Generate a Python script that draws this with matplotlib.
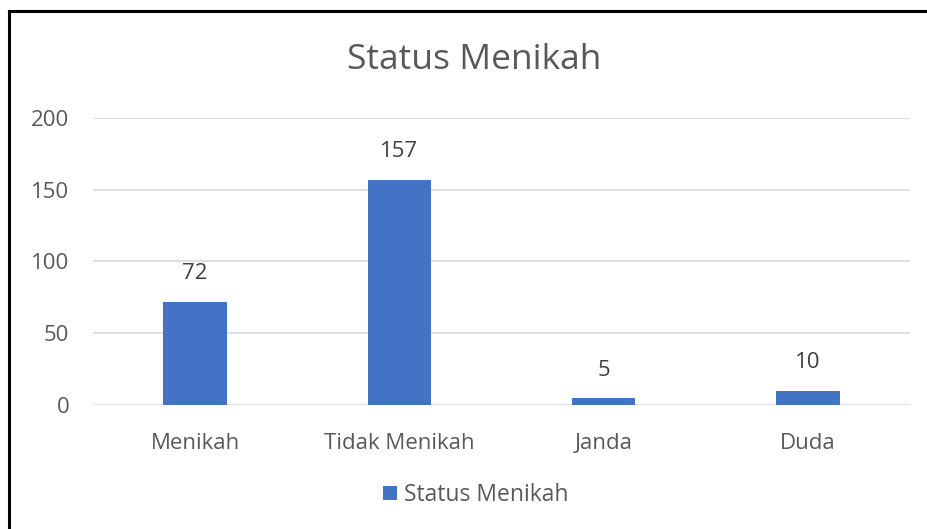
import matplotlib.pyplot as plt
from matplotlib.lines import Line2D
import numpy as np

categories = ['Menikah', 'Tidak Menikah', 'Janda', 'Duda']
counts = [72, 157, 5, 10]
yticks = [0, 50, 100, 150, 200]

plt.rcParams['font.family'] = ['Open Sans', 'DejaVu Sans']

fig = plt.figure(figsize=(9.27, 5.29), dpi=100)
ax = fig.add_axes([0.1003, 0.2344, 0.8814, 0.5426])

x = np.arange(len(categories))
bars = ax.bar(x, counts, width=0.31, color='#4472c4', zorder=3, label='Status Menikah')

for xi, v in zip(x, counts):
    ax.annotate(str(v), (xi, v), xytext=(0, 20), textcoords='offset points',
                ha='center', va='center', fontsize=16, color='#404040')

ax.set_xlim(-0.5, 3.5)
ax.set_ylim(0, 200)
ax.set_yticks(yticks)
ax.set_xticks(x)
ax.set_xticklabels(categories)
ax.yaxis.grid(True, color='#d9d9d9', linewidth=1.2, zorder=0)
for s in ax.spines.values():
    s.set_visible(False)
ax.tick_params(length=0, labelsize=16, labelcolor='#595959')
ax.tick_params(axis='x', pad=20)
ax.tick_params(axis='y', pad=17)

fig.text(0.512, 0.886, 'Status Menikah', ha='center', va='center', fontsize=25.5, color='#595959')

leg = fig.legend(handles=[bars], loc='center', bbox_to_anchor=(0.513, 0.064), frameon=False,
                 fontsize=16.5, handlelength=0.6, handleheight=0.6, handletextpad=0.3)
for t in leg.get_texts():
    t.set_color('#595959')

# outer frame (cropped on right and bottom)
fig.add_artist(Line2D([9 / 927, 1.0], [1 - 11 / 529, 1 - 11 / 529], transform=fig.transFigure,
                      color='black', linewidth=2.2))
fig.add_artist(Line2D([9 / 927, 9 / 927], [0, 1 - 11 / 529], transform=fig.transFigure,
                      color='black', linewidth=2.2))

fig.savefig('out.png', dpi=100)
